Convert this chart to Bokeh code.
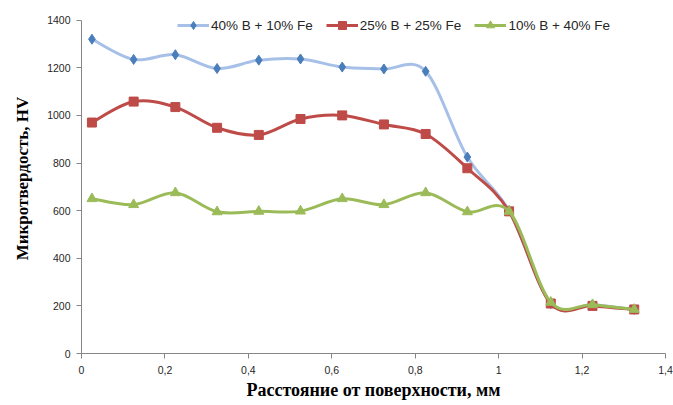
from bokeh.plotting import figure
from bokeh.models import Range1d, FixedTicker, CustomJSTickFormatter, Legend, LegendItem
from bokeh.embed import file_html
from bokeh.resources import INLINE

distance = [0.025, 0.125, 0.225, 0.325, 0.425, 0.525, 0.625, 0.725, 0.825, 0.925, 1.025, 1.125, 1.225, 1.325]
s1_name = "40% B + 10% Fe"
s1 = [1320, 1235, 1255, 1197, 1232, 1237, 1203, 1195, 1185, 825, 600, 210, 205, 185]
s2_name = "25% B + 25% Fe"
s2 = [970, 1058, 1035, 948, 918, 985, 1000, 962, 922, 778, 597, 210, 200, 185]
s3_name = "10% B + 40% Fe"
s3 = [650, 625, 675, 595, 597, 598, 650, 625, 675, 595, 597, 215, 205, 185]
y_ticks = [0, 200, 400, 600, 800, 1000, 1200, 1400]
x_ticks = [0, 0.2, 0.4, 0.6, 0.8, 1.0, 1.2, 1.4]

W, H = 673, 405
p = figure(width=W, height=H, output_backend="svg", toolbar_location=None,
           x_range=Range1d(0, 1.4), y_range=Range1d(0, 1470),
           min_border_left=81, min_border_right=8, min_border_top=3, min_border_bottom=52)
p.outline_line_color = None
p.grid.grid_line_color = None
p.background_fill_color = "white"
p.border_fill_color = "white"

def smooth(xs, ys):
    n = len(xs)
    x0, y0, x1, y1, cx0, cy0, cx1, cy1 = [], [], [], [], [], [], [], []
    for i in range(n - 1):
        pm = i - 1 if i > 0 else i
        pp = i + 2 if i + 2 < n else i + 1
        x0.append(xs[i]); y0.append(ys[i]); x1.append(xs[i + 1]); y1.append(ys[i + 1])
        cx0.append(xs[i] + (xs[i + 1] - xs[pm]) / 6)
        cy0.append(ys[i] + (ys[i + 1] - ys[pm]) / 6)
        cx1.append(xs[i + 1] - (xs[pp] - xs[i]) / 6)
        cy1.append(ys[i + 1] - (ys[pp] - ys[i]) / 6)
    return dict(x0=x0, y0=y0, x1=x1, y1=y1, cx0=cx0, cy0=cy0, cx1=cx1, cy1=cy1)

items = []
for name, ys, lc, mc, marker, size in [
    (s1_name, s1, "#A7C0E8", "#4A7EBB", "diamond", 10),
    (s2_name, s2, "#BE4B48", "#BE4B48", "square", 9),
    (s3_name, s3, "#9BBB59", "#9BBB59", "triangle", 10),
]:
    p.bezier(source=smooth(distance, ys), x0="x0", y0="y0", x1="x1", y1="y1",
             cx0="cx0", cy0="cy0", cx1="cx1", cy1="cy1", line_color=lc, line_width=3)
    ln = p.line([distance[0]], [ys[0]], line_color=lc, line_width=3)
    sc = p.scatter(distance, ys, marker=marker, size=size, fill_color=mc, line_color=mc)
    items.append(LegendItem(label=name, renderers=[ln, sc]))

legend = Legend(items=items, orientation="horizontal", location=(96, 318),
                border_line_color=None, background_fill_alpha=0,
                label_text_font="Liberation Sans", label_text_font_size="13.5px",
                label_text_color="#262626", glyph_width=32, glyph_height=20,
                label_height=20, label_standoff=2, spacing=13, padding=0, margin=0)
p.add_layout(legend, "center")

for ax in (p.xaxis[0], p.yaxis[0]):
    ax.axis_line_color = "#868686"
    ax.major_tick_line_color = "#868686"
    ax.major_tick_out = 5
    ax.major_tick_in = 0
    ax.minor_tick_line_color = None
    ax.major_label_text_font = "Liberation Sans"
    ax.major_label_text_font_size = "10.5px"
    ax.major_label_text_color = "#262626"
    ax.axis_label_text_font = "Liberation Serif"
    ax.axis_label_text_font_style = "bold"
    ax.axis_label_text_color = "black"

p.yaxis.bounds = (0, 1400)
p.xaxis.axis_label_text_font_size = "18px"
p.yaxis.axis_label_text_font_size = "17px"
p.xaxis.ticker = FixedTicker(ticks=x_ticks)
p.xaxis.formatter = CustomJSTickFormatter(code="var s=(Math.round(tick*10)/10).toString(); return s.replace('.', ',');")
p.yaxis.ticker = FixedTicker(ticks=y_ticks)
p.xaxis.axis_label = "Расстояние от поверхности, мм"
p.yaxis.axis_label = "Микротвердость, HV"
p.xaxis.major_label_standoff = 7
p.yaxis.major_label_standoff = 6
p.xaxis.axis_label_standoff = 3
p.yaxis.axis_label_standoff = 12

open("out.html", "w").write(file_html(p, INLINE))
